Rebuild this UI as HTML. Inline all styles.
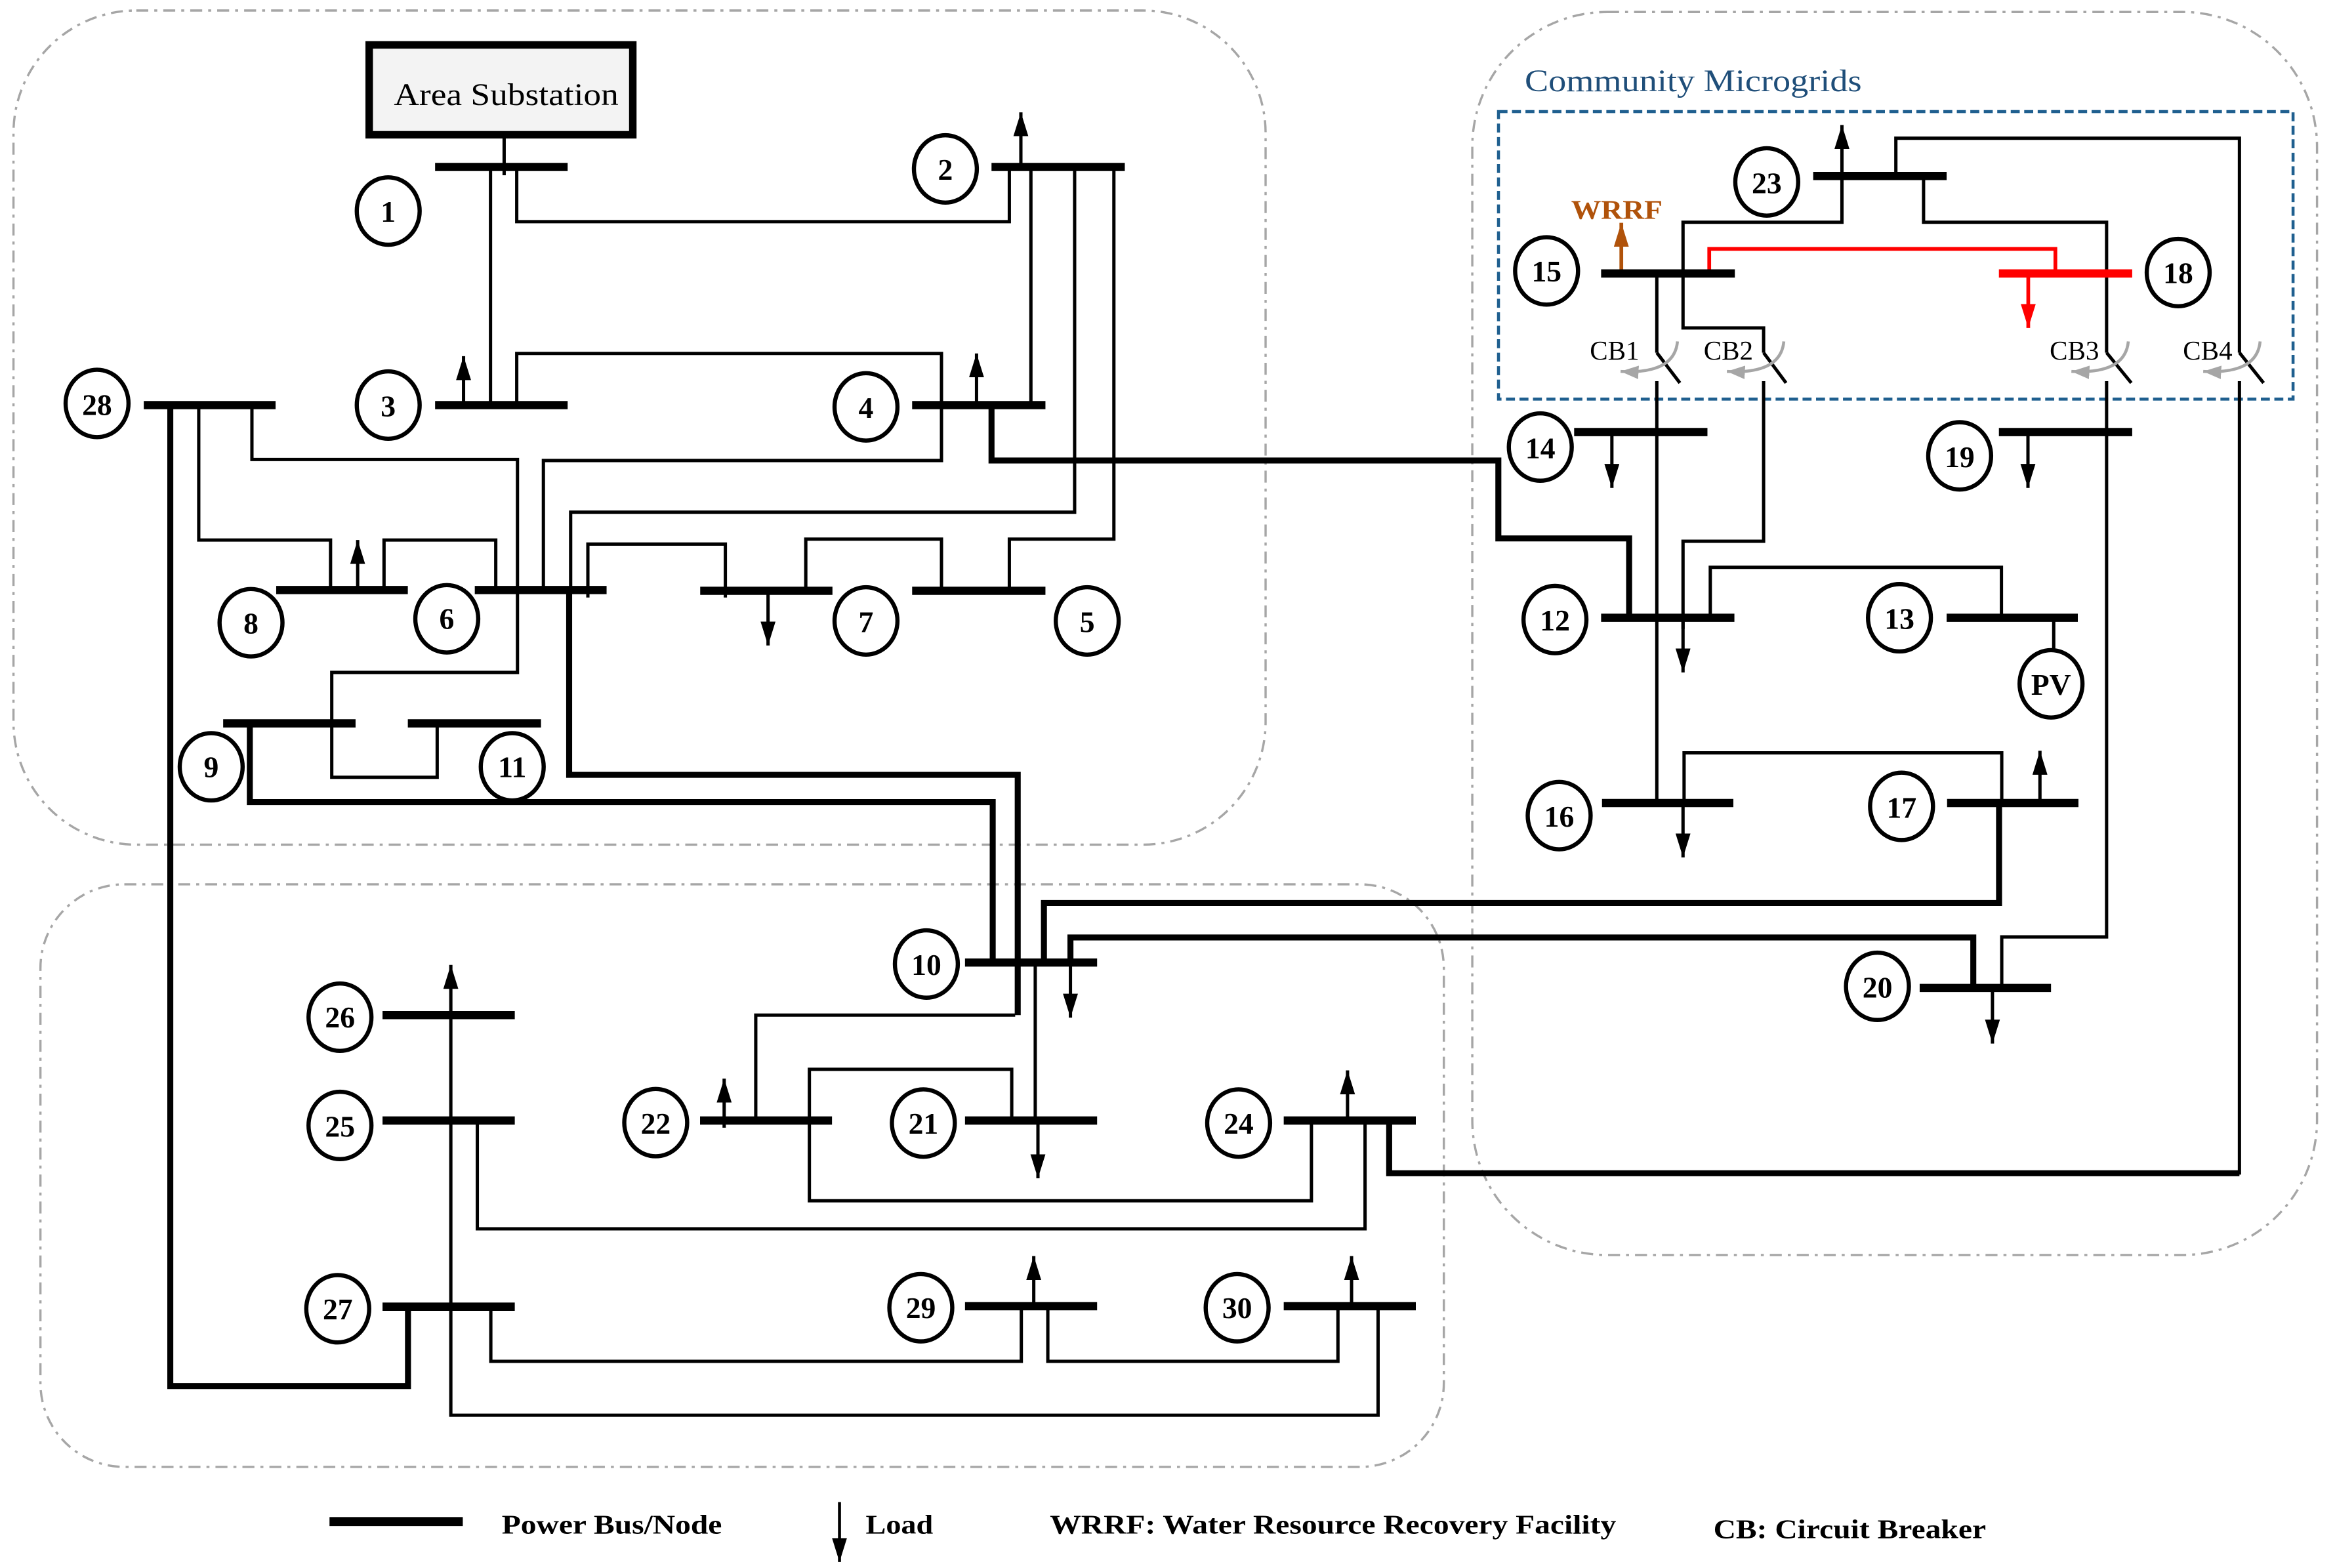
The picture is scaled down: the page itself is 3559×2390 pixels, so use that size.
<!DOCTYPE html>
<html><head><meta charset="utf-8"><style>
html,body{margin:0;padding:0;background:#fff;}
svg{display:block;}
text{font-family:"Liberation Serif",serif;}
</style></head><body>
<svg width="3559" height="2390" viewBox="0 0 1559 1047" preserveAspectRatio="none" xmlns="http://www.w3.org/2000/svg">
<defs>
<marker id="ab" markerUnits="userSpaceOnUse" markerWidth="16" markerHeight="10" refX="16" refY="5" orient="auto"><path d="M0,0 L16,5 L0,10 z" fill="#000"/></marker>
<marker id="ar" markerUnits="userSpaceOnUse" markerWidth="16" markerHeight="10" refX="16" refY="5" orient="auto"><path d="M0,0 L16,5 L0,10 z" fill="#f00"/></marker>
<marker id="abr" markerUnits="userSpaceOnUse" markerWidth="16" markerHeight="10" refX="16" refY="5" orient="auto"><path d="M0,0 L16,5 L0,10 z" fill="#b0520a"/></marker>
<marker id="ag" markerUnits="userSpaceOnUse" markerWidth="12" markerHeight="9" refX="12" refY="4.5" orient="auto"><path d="M0,0 L12,4.5 L0,9 z" fill="#a6a6a6"/></marker>
</defs>

<g fill="none" stroke="#a6a6a6" stroke-width="1.5" stroke-dasharray="8 4 2 4">
<rect x="9" y="7" width="836" height="557" rx="82"/>
<rect x="27" y="590.5" width="937" height="389" rx="56"/>
<rect x="983" y="8" width="564" height="830" rx="90"/>
</g>
<rect x="1000.5" y="74.5" width="530.5" height="192" fill="none" stroke="#1f5f8f" stroke-width="2" stroke-dasharray="6 3"/>
<text x="1018" y="61" font-size="21" fill="#1f4e79" textLength="225" lengthAdjust="spacingAndGlyphs">Community Microgrids</text>

<rect x="246.5" y="30" width="176" height="60" fill="#f3f3f3" stroke="#000" stroke-width="5"/>
<text x="263" y="70" font-size="21" textLength="150" lengthAdjust="spacingAndGlyphs">Area Substation</text>

<g fill="none" stroke="#000" stroke-width="2.2">
<path d="M336.6,91.5 V117"/>
<path d="M327.5,111.5 V270.5"/>
<path d="M345,111.5 V148 H673.9 V111.5"/>
<path d="M688.3,111.5 V270.5"/>
<path d="M717.5,111.5 V342 H381 V394"/>
<path d="M743.7,111.5 V360 H673.9 V394.5"/>
<path d="M345,270.5 V236 H628.6 V307.5 H362.8 V394"/>
<path d="M538,394.5 V360 H628.6 V394.5"/>
<path d="M392.5,399 V363.3 H484.3 V399"/>
<path d="M132.7,270.5 V360.6 H220.7 V394"/>
<path d="M168.2,270.5 V306.8 H345.5 V449 H221.5 V519 H291.9 V483"/>
<path d="M256.4,394 V360.6 H331 V394"/>
<path d="M677.8,677.8 H504.6 V748.2"/>
<path d="M691.2,642.7 V748.2"/>
<path d="M675.5,748.2 V714 H540.4 V801.8 H875.6 V748.2"/>
<path d="M318.7,748.2 V820.5 H911.4 V748.2"/>
<path d="M327.7,872.5 V909 H681.9 V872.2"/>
<path d="M699.6,872.2 V909 H893.3 V872.2"/>
<path d="M301,677 V945 H920.1 V872.2"/>
<path d="M1265.8,117.5 V92.3 H1495.2 V235.5"/>
<path d="M1495.2,254.5 V784.3"/>
<path d="M1229.8,117.5 V148.4 H1123.7 V219 H1177.5 V235.5"/>
<path d="M1177.5,254.5 V361.4 H1123.7 V420"/>
<path d="M1284.3,117.5 V148.4 H1406.5 V235.5"/>
<path d="M1406.5,254.5 V625.6 H1336.5 V659.7"/>
<path d="M1106.2,182.6 V235.5"/>
<path d="M1106.2,254.5 V536.2"/>
<path d="M1141.9,412.5 V378.8 H1336.3 V412.5"/>
<path d="M1371.2,412.5 V434"/>
<path d="M1124.4,536.2 V502.7 H1336.5 V536.2"/>
<path d="M1106.2,235.5 L1121.6,255.7"/>
<path d="M1177.5,235.5 L1192.5,255.7"/>
<path d="M1406.5,235.5 L1423,255.7"/>
<path d="M1495.2,235.5 L1511.3,255.7"/>
</g>
<path d="M1141.2,182.6 V166.2 H1372.3 V182.6" fill="none" stroke="#f00" stroke-width="2.5"/>

<g fill="none" stroke="#000" stroke-width="4">
<path d="M662,270.5 V307.5 H1000.4 V359.5 H1087.7 V412.5"/>
<path d="M380,394 V517.4 H679.5 V677.8"/>
<path d="M166.8,483 V535.6 H662.8 V642.7"/>
<path d="M113.7,270.5 V925.5 H272.4 V872.5"/>
<path d="M1334.7,536.2 V603 H697 V642.7"/>
<path d="M1317.5,659.7 V626 H714.7 V642.7"/>
<path d="M927.5,748.2 V783.4 H1495.2"/>
</g>

<g fill="none" stroke="#a6a6a6" stroke-width="2">
<path d="M1120,228 Q1118,250 1082,248" marker-end="url(#ag)"/>
<path d="M1191,228 Q1189,250 1153,248" marker-end="url(#ag)"/>
<path d="M1421,228 Q1419,250 1383,248" marker-end="url(#ag)"/>
<path d="M1509,228 Q1507,250 1471,248" marker-end="url(#ag)"/>
</g>

<g stroke="#000" stroke-width="2.2" marker-end="url(#ab)">
<line x1="681.6" y1="111.5" x2="681.6" y2="75"/>
<line x1="309.5" y1="270.5" x2="309.5" y2="237.8"/>
<line x1="652" y1="270.5" x2="652" y2="236"/>
<line x1="238.8" y1="394" x2="238.8" y2="360.6"/>
<line x1="512.8" y1="394.5" x2="512.8" y2="431"/>
<line x1="714.7" y1="642.7" x2="714.7" y2="679.5"/>
<line x1="301" y1="678" x2="301" y2="644.3"/>
<line x1="483.5" y1="753" x2="483.5" y2="720.2"/>
<line x1="693" y1="748.2" x2="693" y2="786.8"/>
<line x1="899.7" y1="748.2" x2="899.7" y2="714.7"/>
<line x1="690.2" y1="872.2" x2="690.2" y2="838.7"/>
<line x1="902.4" y1="872.2" x2="902.4" y2="838.7"/>
<line x1="1229.8" y1="117.5" x2="1229.8" y2="83.5"/>
<line x1="1076.2" y1="288.5" x2="1076.2" y2="325.8"/>
<line x1="1354" y1="288.5" x2="1354" y2="325.8"/>
<line x1="1123.7" y1="412.5" x2="1123.7" y2="449"/>
<line x1="1123.7" y1="536.2" x2="1123.7" y2="572.5"/>
<line x1="1362" y1="536.2" x2="1362" y2="501.3"/>
<line x1="1330.3" y1="659.7" x2="1330.3" y2="696.8"/>
</g>
<line x1="1354.2" y1="182.6" x2="1354.2" y2="219" stroke="#f00" stroke-width="2.5" marker-end="url(#ar)"/>
<line x1="1082.5" y1="182.6" x2="1082.5" y2="148.8" stroke="#b0520a" stroke-width="2.5" marker-end="url(#abr)"/>
<text x="1049" y="146" font-size="18" font-weight="bold" fill="#b0520a" textLength="61" lengthAdjust="spacingAndGlyphs">WRRF</text>

<g stroke="#000" stroke-width="5.5">
<line x1="290.5" y1="111.5" x2="379" y2="111.5"/>
<line x1="662" y1="111.5" x2="751" y2="111.5"/>
<line x1="290.5" y1="270.5" x2="379" y2="270.5"/>
<line x1="609" y1="270.5" x2="698" y2="270.5"/>
<line x1="96" y1="270.5" x2="184" y2="270.5"/>
<line x1="184.4" y1="394" x2="272.3" y2="394"/>
<line x1="317" y1="394" x2="405" y2="394"/>
<line x1="467.5" y1="394.5" x2="555.8" y2="394.5"/>
<line x1="609" y1="394.5" x2="698" y2="394.5"/>
<line x1="149" y1="483" x2="237.4" y2="483"/>
<line x1="272.3" y1="483" x2="361.2" y2="483"/>
<line x1="644.3" y1="642.7" x2="732.5" y2="642.7"/>
<line x1="255.4" y1="677.8" x2="343.7" y2="677.8"/>
<line x1="255.4" y1="748.2" x2="343.7" y2="748.2"/>
<line x1="467.4" y1="748.2" x2="555.5" y2="748.2"/>
<line x1="644.3" y1="748.2" x2="732.5" y2="748.2"/>
<line x1="857.1" y1="748.2" x2="945.3" y2="748.2"/>
<line x1="255.4" y1="872.5" x2="343.7" y2="872.5"/>
<line x1="644.3" y1="872.2" x2="732.5" y2="872.2"/>
<line x1="857.1" y1="872.2" x2="945.3" y2="872.2"/>
<line x1="1210.6" y1="117.5" x2="1299.7" y2="117.5"/>
<line x1="1069" y1="182.6" x2="1158.3" y2="182.6"/>
<line x1="1334.6" y1="182.6" x2="1423.6" y2="182.6" stroke="#f00"/>
<line x1="1051" y1="288.5" x2="1140" y2="288.5"/>
<line x1="1334.6" y1="288.5" x2="1423.6" y2="288.5"/>
<line x1="1069" y1="412.5" x2="1158" y2="412.5"/>
<line x1="1299.7" y1="412.5" x2="1387.3" y2="412.5"/>
<line x1="1069.6" y1="536.2" x2="1157.3" y2="536.2"/>
<line x1="1300" y1="536.2" x2="1387.7" y2="536.2"/>
<line x1="1281.7" y1="659.7" x2="1369.4" y2="659.7"/>
</g>

<g fill="#fff" stroke="#000" stroke-width="2.8">
<ellipse cx="259.2" cy="140.9" rx="21" ry="22.5"/>
<ellipse cx="631.2" cy="112.8" rx="21" ry="22.5"/>
<ellipse cx="259.2" cy="270.5" rx="21" ry="22.5"/>
<ellipse cx="578.2" cy="271.7" rx="21" ry="22.5"/>
<ellipse cx="64.8" cy="269.4" rx="21" ry="22.5"/>
<ellipse cx="167.6" cy="415.8" rx="21" ry="22.5"/>
<ellipse cx="298.3" cy="413.2" rx="21" ry="22.5"/>
<ellipse cx="578.2" cy="414.6" rx="21" ry="22.5"/>
<ellipse cx="725.9" cy="414.6" rx="21" ry="22.5"/>
<ellipse cx="141" cy="512" rx="21" ry="22.5"/>
<ellipse cx="342" cy="512" rx="21" ry="22.5"/>
<ellipse cx="618.5" cy="643.7" rx="21" ry="22.5"/>
<ellipse cx="227" cy="679.2" rx="21" ry="22.5"/>
<ellipse cx="227" cy="751.5" rx="21" ry="22.5"/>
<ellipse cx="437.8" cy="749.6" rx="21" ry="22.5"/>
<ellipse cx="616.5" cy="749.9" rx="21" ry="22.5"/>
<ellipse cx="827" cy="749.9" rx="21" ry="22.5"/>
<ellipse cx="225.5" cy="873.9" rx="21" ry="22.5"/>
<ellipse cx="614.8" cy="873.2" rx="21" ry="22.5"/>
<ellipse cx="826" cy="873.2" rx="21" ry="22.5"/>
<ellipse cx="1179.6" cy="121.5" rx="21" ry="22.5"/>
<ellipse cx="1032.6" cy="180.9" rx="21" ry="22.5"/>
<ellipse cx="1454.3" cy="182" rx="21" ry="22.5"/>
<ellipse cx="1028.4" cy="298.5" rx="21" ry="22.5"/>
<ellipse cx="1308.4" cy="304.4" rx="21" ry="22.5"/>
<ellipse cx="1038.2" cy="413.7" rx="21" ry="22.5"/>
<ellipse cx="1268.2" cy="412.5" rx="21" ry="22.5"/>
<ellipse cx="1041" cy="544.6" rx="21" ry="22.5"/>
<ellipse cx="1269.6" cy="538.4" rx="21" ry="22.5"/>
<ellipse cx="1253.5" cy="658.6" rx="21" ry="22.5"/>
<ellipse cx="1369.4" cy="456.6" rx="21" ry="22.5"/>
</g>
<g font-size="20" font-weight="bold" text-anchor="middle">
<text x="259.2" y="148">1</text>
<text x="631.2" y="120">2</text>
<text x="259.2" y="278">3</text>
<text x="578.2" y="279">4</text>
<text x="64.8" y="277">28</text>
<text x="167.6" y="423">8</text>
<text x="298.3" y="420">6</text>
<text x="578.2" y="422">7</text>
<text x="725.9" y="422">5</text>
<text x="141" y="519">9</text>
<text x="342" y="519">11</text>
<text x="618.5" y="651">10</text>
<text x="227" y="686">26</text>
<text x="227" y="759">25</text>
<text x="437.8" y="757">22</text>
<text x="616.5" y="757">21</text>
<text x="827" y="757">24</text>
<text x="225.5" y="881">27</text>
<text x="614.8" y="880">29</text>
<text x="826" y="880">30</text>
<text x="1179.6" y="129">23</text>
<text x="1032.6" y="188">15</text>
<text x="1454.3" y="189">18</text>
<text x="1028.4" y="306">14</text>
<text x="1308.4" y="312">19</text>
<text x="1038.2" y="421">12</text>
<text x="1268.2" y="420">13</text>
<text x="1041" y="552">16</text>
<text x="1269.6" y="546">17</text>
<text x="1253.5" y="666">20</text>
<text x="1369.4" y="464">PV</text>
</g>

<g font-size="18" text-anchor="middle">
<text x="1078" y="240">CB1</text>
<text x="1154" y="240">CB2</text>
<text x="1385" y="240">CB3</text>
<text x="1474" y="240">CB4</text>
</g>

<line x1="220" y1="1016" x2="309" y2="1016" stroke="#000" stroke-width="6"/>
<line x1="560.5" y1="1003" x2="560.5" y2="1043" stroke="#000" stroke-width="2" marker-end="url(#ab)"/>
<g font-size="18" font-weight="bold">
<text x="335" y="1024" textLength="147" lengthAdjust="spacingAndGlyphs">Power Bus/Node</text>
<text x="578" y="1024" textLength="45" lengthAdjust="spacingAndGlyphs">Load</text>
<text x="701" y="1024" textLength="378" lengthAdjust="spacingAndGlyphs">WRRF: Water Resource Recovery Facility</text>
<text x="1144" y="1027" textLength="182" lengthAdjust="spacingAndGlyphs">CB: Circuit Breaker</text>
</g>
</svg>
</body></html>
